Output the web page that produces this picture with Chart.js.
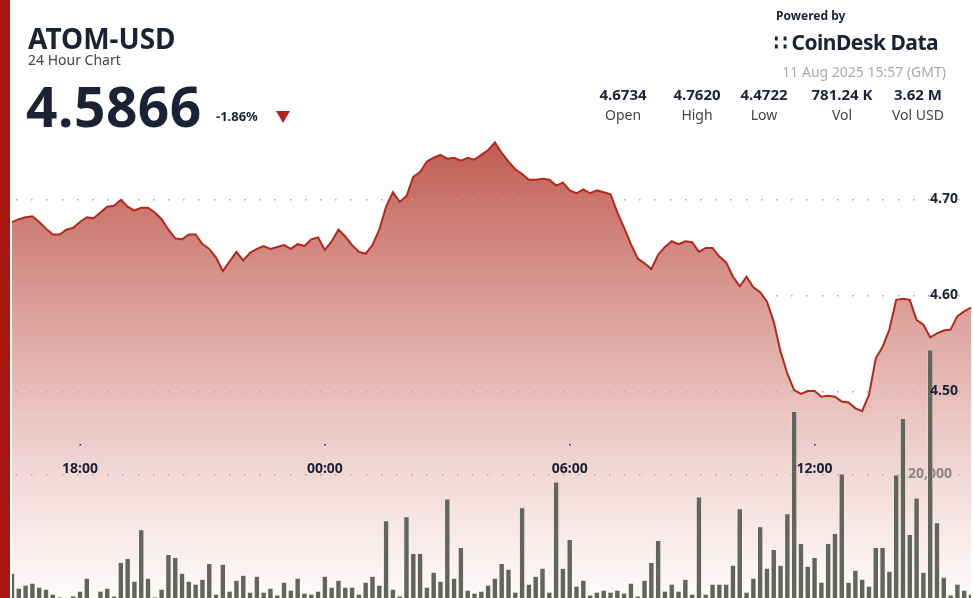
<!DOCTYPE html>
<html>
<head>
<meta charset="utf-8">
<script src="https://cdn.jsdelivr.net/npm/chart.js@4.4.1/dist/chart.umd.min.js"></script>
<style>
  html, body { margin: 0; padding: 0; background: #fff; font-family: "Noto Sans", "Open Sans", sans-serif; color: #1a2233; }
  #wrap { position: relative; width: 973px; height: 598px; overflow: hidden; }
  #strip { position: absolute; left: 0; top: 0; width: 10px; height: 598px; background: #a8170f; z-index: 3; }
  canvas { position: absolute; left: 0; top: 0; }
  .abs { position: absolute; z-index: 2; white-space: nowrap; }
  #sym { left: 28px; top: 19px; font-size: 28px; font-weight: 700; }
  #sub { left: 28px; top: 50px; font-size: 14px; color: #444; }
  #last { left: 26px; top: 68px; font-size: 55px; font-weight: 700; letter-spacing: 0.5px; }
  #chg { left: 216px; top: 107px; font-size: 13px; font-weight: 700; }
  #tri { left: 276px; top: 111px; width: 0; height: 0; border-left: 7px solid transparent; border-right: 7px solid transparent; border-top: 12px solid #b3261a; }
  #pow { left: 776px; top: 7px; font-size: 12px; font-weight: 700; }
  #logo { left: 774px; top: 28px; font-size: 21px; font-weight: 700; letter-spacing: -0.5px; }
  #date { right: 27px; top: 62px; font-size: 14px; color: #aaa; }
  .stat { top: 84px; width: 80px; margin-left: -40px; text-align: center; }
  .stat b { display: block; font-size: 15px; }
  .stat span { display: block; font-size: 14px; color: #444; margin-top: 1px; }
</style>
</head>
<body>
<div id="wrap">
  <div id="strip"></div>
  <canvas id="c" width="973" height="598"></canvas>
  <div class="abs" id="sym">ATOM-USD</div>
  <div class="abs" id="sub">24 Hour Chart</div>
  <div class="abs" id="last">4.5866</div>
  <div class="abs" id="chg">-1.86%</div>
  <div class="abs" id="tri"></div>
  <div class="abs" id="pow">Powered by</div>
  <div class="abs" id="logo">&#x2237; CoinDesk Data</div>
  <div class="abs" id="date">11 Aug 2025 15:57 (GMT)</div>
  <div class="abs stat" style="left:623px"><b>4.6734</b><span>Open</span></div>
  <div class="abs stat" style="left:697px"><b>4.7620</b><span>High</span></div>
  <div class="abs stat" style="left:764px"><b>4.4722</b><span>Low</span></div>
  <div class="abs stat" style="left:842px"><b>781.24 K</b><span>Vol</span></div>
  <div class="abs stat" style="left:918px"><b>3.62 M</b><span>Vol USD</span></div>
</div>
<script>
// 10-minute candles, 16:20 -> 15:50
const times = [];
for (let i = 0; i < 142; i++) {
    const m = (16 * 60 + 20 + i * 10) % 1440;
    times.push(String(Math.floor(m / 60)).padStart(2, '0') + ':' + String(m % 60).padStart(2, '0'));
}

const prices = [
    4.676, 4.679, 4.681, 4.682, 4.676, 4.669, 4.663, 4.663, 4.668, 4.670,
    4.676, 4.681, 4.680, 4.686, 4.692, 4.693, 4.699, 4.692, 4.688, 4.691,
    4.691, 4.686, 4.679, 4.668, 4.659, 4.658, 4.663, 4.663, 4.653, 4.648,
    4.639, 4.625, 4.635, 4.645, 4.636, 4.644, 4.648, 4.651, 4.648, 4.650,
    4.652, 4.648, 4.653, 4.651, 4.658, 4.660, 4.647, 4.656, 4.668, 4.661,
    4.652, 4.645, 4.643, 4.652, 4.668, 4.692, 4.707, 4.697, 4.703, 4.723,
    4.728, 4.739, 4.743, 4.746, 4.742, 4.743, 4.740, 4.743, 4.741, 4.746,
    4.751, 4.759, 4.748, 4.739, 4.731, 4.726, 4.720, 4.720, 4.721, 4.720,
    4.714, 4.717, 4.709, 4.706, 4.710, 4.706, 4.709, 4.707, 4.705, 4.686,
    4.670, 4.653, 4.638, 4.633, 4.627, 4.642, 4.650, 4.656, 4.653, 4.656,
    4.655, 4.645, 4.649, 4.649, 4.640, 4.634, 4.619, 4.609, 4.619, 4.608,
    4.603, 4.593, 4.572, 4.541, 4.518, 4.501, 4.497, 4.500, 4.500, 4.494,
    4.495, 4.494, 4.489, 4.488, 4.482, 4.479, 4.496, 4.534, 4.546, 4.564,
    4.595, 4.596, 4.595, 4.574, 4.569, 4.556, 4.560, 4.563, 4.564, 4.578,
    4.583, 4.587
];

const volumes = [
    4000, 1600, 2080, 2400, 1760, 1440, 640, 160, 0, 320,
    1120, 3200, 0, 1120, 1600, 320, 5760, 6400, 2720, 11040,
    3200, 160, 1440, 7040, 6560, 4000, 2720, 2240, 3040, 5600,
    640, 5440, 1120, 2880, 3680, 960, 3520, 960, 1600, 480,
    2560, 1280, 3200, 800, 640, 1120, 3520, 1760, 2880, 1760,
    1760, 640, 2560, 3520, 2080, 12480, 1440, 320, 13120, 7200,
    7200, 1760, 4160, 2720, 16000, 3200, 8160, 1280, 800, 1120,
    2080, 3200, 5600, 4640, 960, 14560, 2240, 3520, 4800, 960,
    18720, 4800, 9440, 1920, 2880, 480, 960, 1280, 960, 1280,
    800, 2400, 320, 2880, 5760, 9280, 1120, 2240, 1120, 3040,
    640, 16320, 640, 2240, 2240, 2240, 5280, 14400, 960, 3200,
    11520, 4800, 7840, 5280, 13600, 30080, 8800, 5120, 6560, 2560,
    8800, 10400, 20000, 2560, 4480, 3040, 1920, 8160, 8160, 4320,
    19840, 28960, 10240, 16160, 4160, 40000, 12160, 3360, 480, 2240,
    1280, 640
];

const timeTicks = ['18:00', '00:00', '06:00', '12:00'];
const priceTicks = [4.50, 4.60, 4.70];
const volumeTicks = [20000];

// dotted grid lines, in-chart tick labels
const overlay = {
    id: 'overlay',
    beforeDatasetsDraw(chart) {
        const ctx = chart.ctx;
        const y = chart.scales.y, yv = chart.scales.yv;
        ctx.save();
        ctx.fillStyle = '#a8a8a8';
        const dots = (py) => {
            for (let px = 16; px < 973; px += 15.2) ctx.fillRect(Math.round(px), Math.round(py), 1.5, 1.5);
        };
        priceTicks.forEach(v => dots(y.getPixelForValue(v)));
        volumeTicks.forEach(v => dots(yv.getPixelForValue(v)));
        ctx.textBaseline = 'middle';
        ctx.textAlign = 'center';
        ctx.font = 'bold 14px "Noto Sans"';
        ctx.fillStyle = 'rgba(120,120,120,0.85)';
        volumeTicks.forEach(v => ctx.fillText(v.toLocaleString('en-US'), 930, yv.getPixelForValue(v)));
        ctx.restore();
    },
    afterDatasetsDraw(chart) {
        const ctx = chart.ctx;
        const x = chart.scales.x, y = chart.scales.y;
        ctx.save();
        ctx.textBaseline = 'middle';
        ctx.textAlign = 'center';
        ctx.font = 'bold 14px "Noto Sans"';
        ctx.fillStyle = '#1a2233';
        timeTicks.forEach(t => {
            const px = x.getPixelForValue(times.indexOf(t));
            ctx.fillText(t, px, 469);
            ctx.fillRect(px - 0.5, 444, 1.5, 1.5);
        });
        priceTicks.forEach(v => ctx.fillText(v.toFixed(2), 944, y.getPixelForValue(v)));
        ctx.restore();
    }
};

const ctx = document.getElementById('c').getContext('2d');
const fillGrad = ctx.createLinearGradient(0, 140, 0, 598);
fillGrad.addColorStop(0, 'rgba(180, 62, 50, 0.85)');
fillGrad.addColorStop(0.5, 'rgba(195, 90, 80, 0.45)');
fillGrad.addColorStop(1, 'rgba(210, 120, 115, 0.03)');

new Chart(ctx, {
    data: {
        labels: times,
        datasets: [{
            type: 'line',
            data: prices,
            yAxisID: 'y',
            borderColor: '#b5281c',
            borderWidth: 2,
            backgroundColor: fillGrad,
            fill: 'start',
            pointRadius: 0,
            tension: 0,
            order: 0
        }, {
            type: 'bar',
            data: volumes,
            yAxisID: 'yv',
            backgroundColor: '#62655c',
            borderColor: 'rgba(235,235,230,0.8)',
            borderWidth: 0.6,
            barPercentage: 0.82,
            categoryPercentage: 1,
            order: 1
        }]
    },
    options: {
        responsive: false,
        animation: false,
        layout: { padding: { left: 12, right: 2, top: 0, bottom: 0 } },
        plugins: {
            legend: { display: false },
            tooltip: { enabled: false },
            filler: { drawTime: 'beforeDatasetsDraw' }
        },
        scales: {
            x: { display: false, offset: false },
            y: { display: false, min: 4.2844, max: 4.9073 },
            yv: { display: false, min: 0, max: 96450 }
        }
    },
    plugins: [overlay]
});
</script>
</body>
</html>
